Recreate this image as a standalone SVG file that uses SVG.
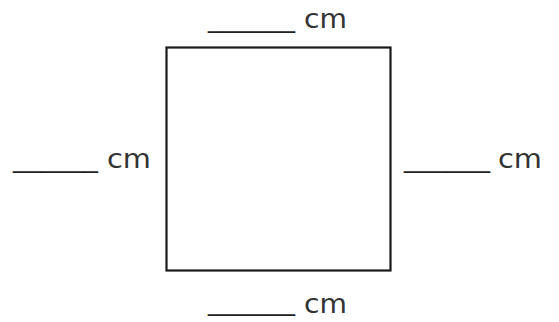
<svg xmlns="http://www.w3.org/2000/svg" width="559" height="322" viewBox="0 0 559 322">
<style>
.u{font-family:"Liberation Sans",Arial,sans-serif;font-size:26px;fill:#222}
.c{font-family:"DejaVu Sans","Liberation Sans",sans-serif;font-size:27px;fill:#333}
</style>
<rect width="559" height="322" fill="#fff"/>
<g id="square">
<rect x="166.5" y="47.5" width="224" height="223" fill="none" stroke="#1a1a1a" stroke-width="2.2"/>
</g>
<g id="label-top">
<text class="u" x="208" y="28" textLength="87" lengthAdjust="spacingAndGlyphs">______</text>
<text class="c" x="304" y="28" textLength="43" lengthAdjust="spacingAndGlyphs">cm</text>
</g>
<g id="label-left">
<text class="u" x="13" y="168" textLength="85" lengthAdjust="spacingAndGlyphs">______</text>
<text class="c" x="107" y="168" textLength="44" lengthAdjust="spacingAndGlyphs">cm</text>
</g>
<g id="label-right">
<text class="u" x="404" y="168" textLength="86" lengthAdjust="spacingAndGlyphs">______</text>
<text class="c" x="498" y="168" textLength="44" lengthAdjust="spacingAndGlyphs">cm</text>
</g>
<g id="label-bottom">
<text class="u" x="208" y="311" textLength="87" lengthAdjust="spacingAndGlyphs">______</text>
<text class="c" x="304" y="313" textLength="43" lengthAdjust="spacingAndGlyphs">cm</text>
</g>
<g id="connectors"/>
</svg>
